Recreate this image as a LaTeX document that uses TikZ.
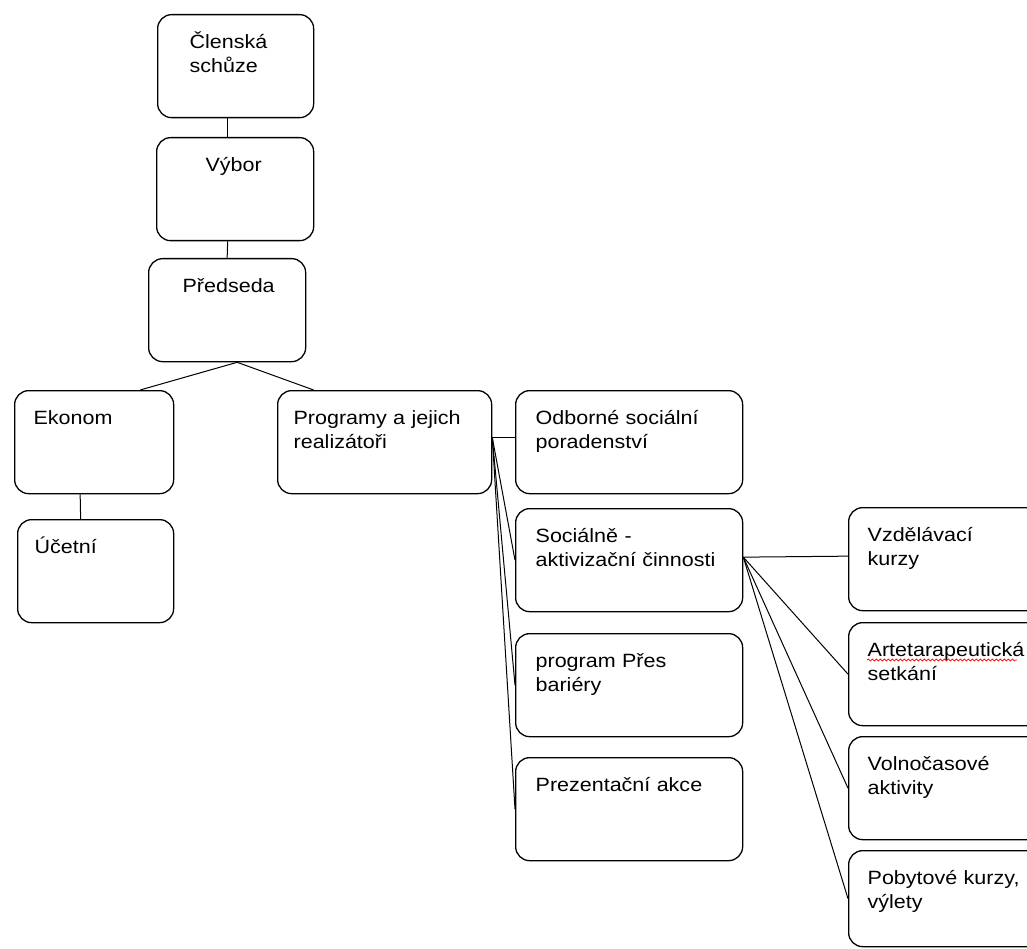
\documentclass[tikz,border=0pt]{standalone}
\usepackage{fontspec}
\setmainfont{Liberation Sans}[FakeStretch=1.12]
\usetikzlibrary{calc,decorations.pathmorphing}
\tikzstyle{box}=[draw,line width=1.3pt,rounded corners=14pt,align=left,anchor=north west,inner ysep=0pt,text height=34pt,text depth=69pt,font=\fontsize{19.2}{24}\selectfont]
\tikzstyle{every edge}=[-,draw,line width=1pt]
\hyphenpenalty=10000

\begin{document}
\begin{tikzpicture}[x=1pt,y=-1pt]
  \useasboundingbox (0,0) rectangle (1027,949);
  \clip (0,0) rectangle (1027,949);

  %% vedeni
  \node[box,inner xsep=32pt,text width=92pt] (clen) at (157,14) {Členská\\schůze};
  \node[box,inner xsep=49pt,text width=59pt] (vybor) at (156,137) {Výbor};
  \node[box,inner xsep=34pt,text width=89pt] (predseda) at (148,258) {Předseda};

  % ekonomika
  \node[box,inner xsep=19pt,text width=121pt] (ekonom) at (14,390) {Ekonom};
  \node[box,inner xsep=17pt,text width=122pt] (ucetni) at (17,519) {Účetní};

  % programy
  \node[box,inner xsep=16pt,text width=182pt] (programy) at (277,390) {Programy a jejich\\realizátoři};
  \node[box,inner xsep=20pt,text width=187pt] (odborne) at (515,390) {Odborné sociální\\poradenství};
  \node[box,inner xsep=20pt,text width=187pt] (socakt) at (515,508) {Sociálně -\\aktivizační činnosti};
  \node[box,inner xsep=20pt,text width=187pt] (pres) at (515,633) {program Přes\\bariéry};
  \node[box,inner xsep=20pt,text width=187pt] (prez) at (515,757) {Prezentační akce};

  % aktivity
  \node[box,inner xsep=19pt,text width=162pt] (vzdel) at (848,507) {Vzdělávací\\kurzy};
  \node[box,inner xsep=19pt,text width=162pt] (arte) at (848,622) {Artetarapeutická\\setkání};
  \node[box,inner xsep=19pt,text width=162pt] (volno) at (848,736) {Volnočasové\\aktivity};
  \node[box,inner xsep=19pt,text width=162pt,text depth=62pt] (pobyt) at (848,850) {Pobytové kurzy,\\výlety};

  \draw[red,line width=0.7pt,decorate,decoration={snake,amplitude=1pt,segment length=4pt}]
    ([xshift=19pt,yshift=-38pt]arte.north west) -- ++(150,0);

  % spoje
  \path ([xshift=-8pt]clen.south) edge ([xshift=-7.5pt]vybor.north)
  ([xshift=-7.5pt]vybor.south) edge (predseda.north)
  ([xshift=10pt]predseda.south) edge ([xshift=46pt]ekonom.north)
  ([xshift=10pt]predseda.south) edge ([xshift=-71pt]programy.north)
  ([xshift=-14pt]ekonom.south) edge ([xshift=-15pt]ucetni.north);

  \path ([yshift=4.5pt]programy.east) edge ([yshift=4.5pt]odborne.west);
  \foreach \to in {socakt,pres,prez}{
    \path ([yshift=4.5pt]programy.east) edge (\to.west);
  }
  \path ([yshift=3pt]socakt.east) edge ([yshift=3pt]vzdel.west);
  \foreach \to in {arte,volno,pobyt}{
    \path ([yshift=3pt]socakt.east) edge (\to.west);
  }
\end{tikzpicture}
\end{document}
